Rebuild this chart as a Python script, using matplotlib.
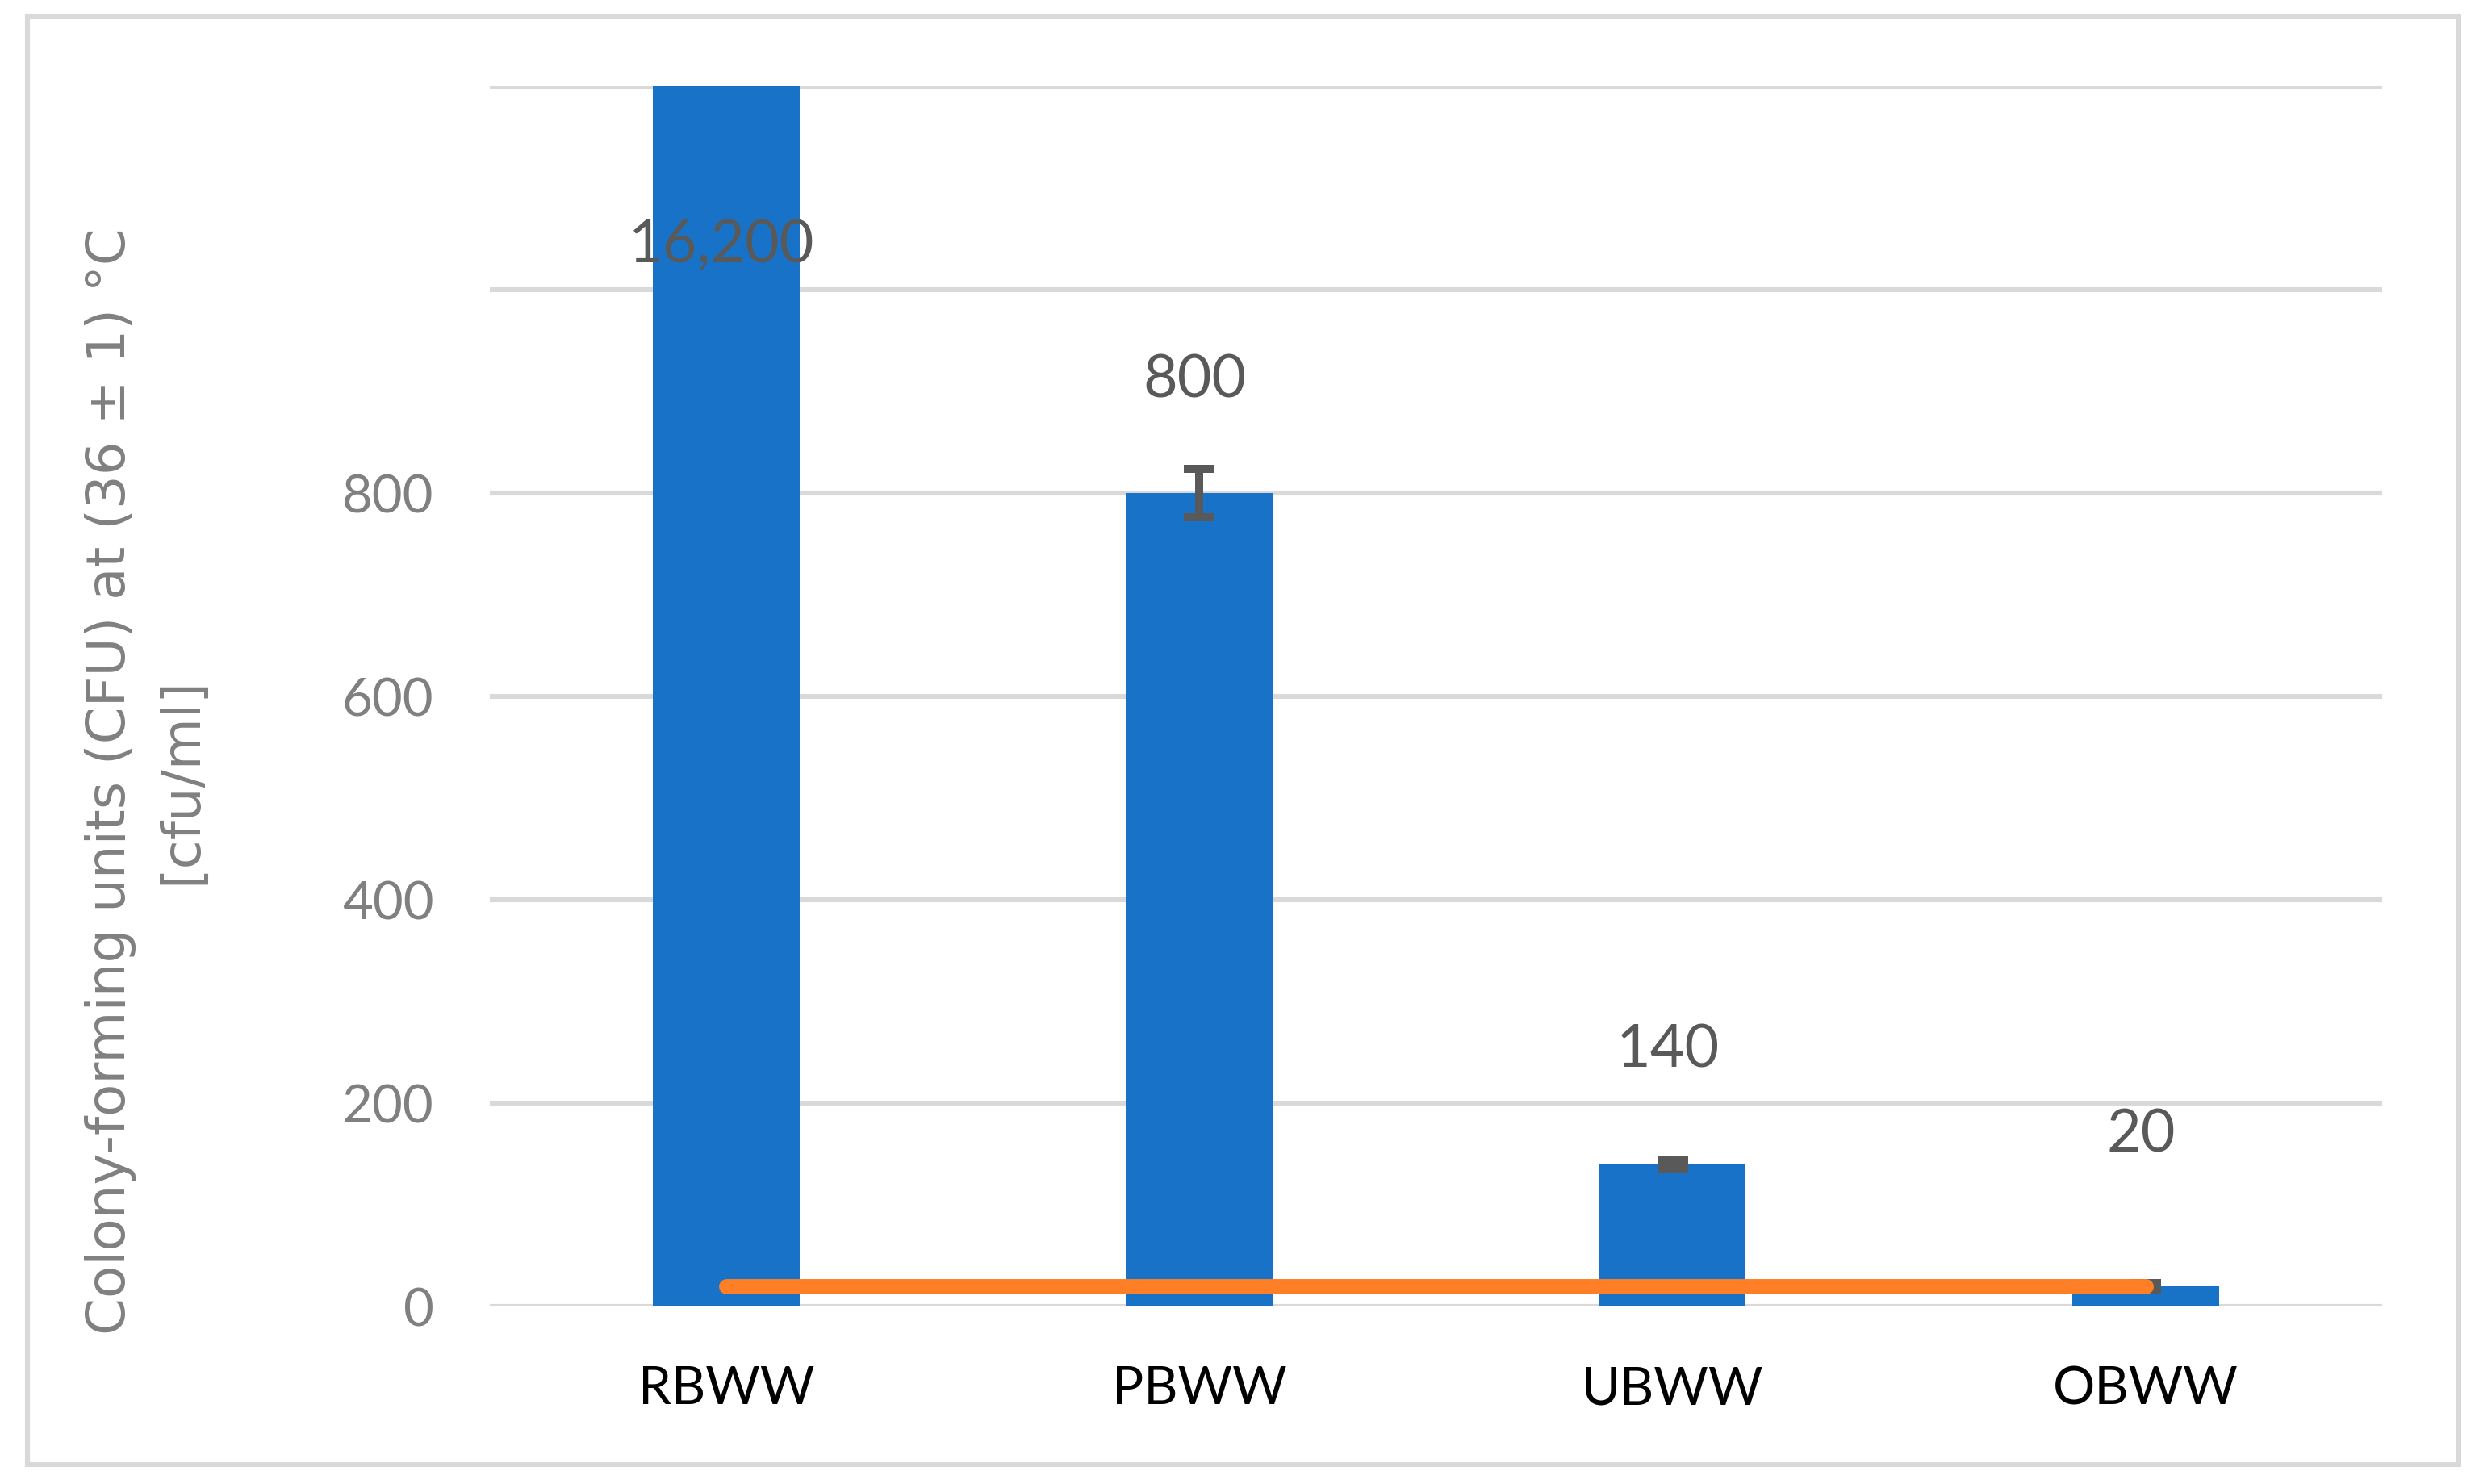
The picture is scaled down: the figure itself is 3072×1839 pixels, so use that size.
import matplotlib
matplotlib.use("Agg")
import matplotlib.pyplot as plt
from matplotlib.patches import Rectangle

# data
samples = ["RBWW", "PBWW", "UBWW", "OBWW"]
cfu = [16200, 800, 140, 20]
cfu_err = [0, 24, 4, 3]
limit = [20, 20, 20, 20]
label_text = ["16,200", "800", "140", "20"]
label_y = [1044, 911, 252, 169]
y_ticks = [0, 200, 400, 600, 800, 1000, 1200]
y_tick_labels = ["0", "200", "400", "600", "800", "", ""]

BLUE = "#1873C8"
ORANGE = "#FE7F25"
GRID = "#D9D9D9"
narrow = ["Lato", "DejaVu Sans"]

fig = plt.figure(figsize=(15.36, 9.2), dpi=200)
ax = fig.add_axes([0.1976, 0.1196, 0.7633, 0.8217])

x = list(range(len(samples)))
ax.bar(x, cfu, width=0.31, color=BLUE, zorder=2)
ax.errorbar(x, cfu, yerr=cfu_err, fmt="none", ecolor="#595959",
            elinewidth=3.6, capsize=6.8, capthick=3.6, zorder=3)
ax.plot(x, limit, color=ORANGE, lw=6.8, solid_capstyle="round", zorder=4)

for xi, t, ly in zip(x, label_text, label_y):
    ax.text(xi - 0.01, ly, t, ha="center", va="center", fontsize=26.5,
            color="#595959", family=narrow, zorder=5)

ax.set_xlim(-0.5, 3.5)
ax.set_ylim(0, 1200)
ax.set_yticks(y_ticks)
ax.set_yticklabels(y_tick_labels)
ax.set_xticks(x)
ax.set_xticklabels(samples)
ax.yaxis.grid(True, color=GRID, lw=2.2, zorder=0)
ax.set_axisbelow(True)
for s in ax.spines.values():
    s.set_visible(False)
ax.tick_params(axis="y", length=0, pad=25, labelsize=23.5, labelcolor="#808080")
ax.tick_params(axis="x", length=0, pad=26, labelsize=23.5, labelcolor="black")
for lab in ax.get_xticklabels() + ax.get_yticklabels():
    lab.set_family(narrow)

fig.text(0.059, 0.474, "Colony-forming units (CFU) at (36 ± 1) °C\n[cfu/ml]",
         rotation=90, ha="center", va="center", multialignment="center",
         fontsize=23.7, color="#808080", linespacing=1.5)

fig.patches.append(Rectangle((0.011, 0.013), 0.9809, 0.9756, transform=fig.transFigure,
                             fill=False, edgecolor=GRID, lw=2.2))

fig.savefig("out.png", dpi=200, facecolor="white")
